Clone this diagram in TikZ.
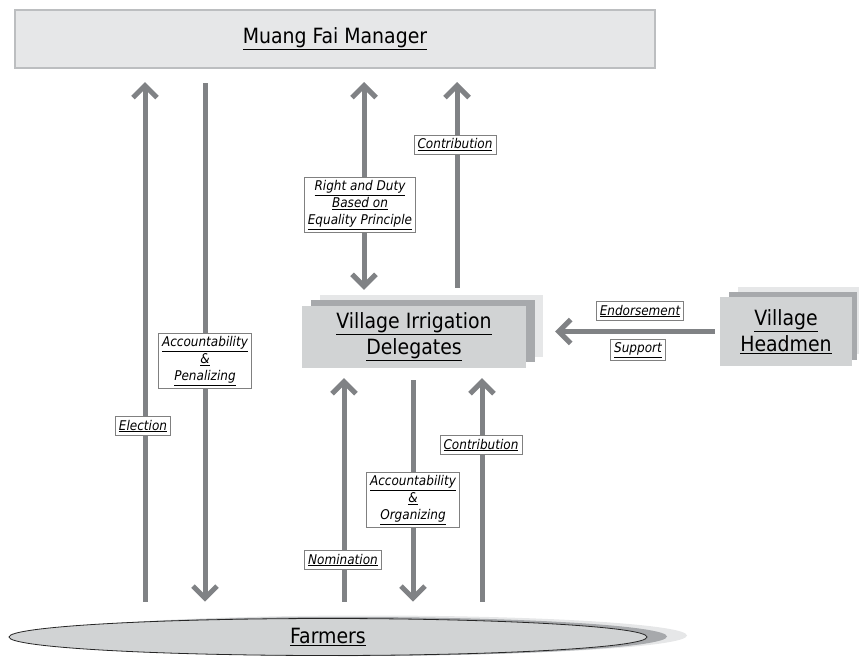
\documentclass[tikz,border=0pt]{standalone}
\usepackage{fontspec}
\setmainfont{DejaVu Sans Condensed}
\usetikzlibrary{arrows.meta,shapes.geometric}
\definecolor{arrowgray}{HTML}{808285}
\definecolor{boxlight}{HTML}{E6E7E8}
\definecolor{boxmid}{HTML}{D1D3D4}
\definecolor{boxdark}{HTML}{A7A9AC}
\definecolor{framegray}{HTML}{BCBEC0}
\newcommand{\ul}[1]{\underline{#1}}
\tikzset{
	barb/.tip={Straight Barb[length=12pt,width=24pt]},
	flow/.style={draw=arrowgray, line width=5pt, -barb},
	flowboth/.style={draw=arrowgray, line width=5pt, barb-barb},
	tag/.style={draw=gray, fill=white, line width=0.8pt, align=center, inner xsep=3.5pt, inner ysep=3pt,
		font=\fontsize{13.4}{17}\selectfont\itshape},
	bigtext/.style={font=\fontsize{21}{26}\selectfont, align=center},
	layer/.style={rectangle, inner sep=0pt},
}
\begin{document}
\begin{tikzpicture}[x=1pt,y=-1pt]
		\useasboundingbox (0,0) rectangle (859,656);
		% Boxes
		\node[layer, draw=framegray, line width=2pt, fill=boxlight, minimum width=640pt, minimum height=58pt, bigtext] (mgr) at (335,39) {\ul{Muang Fai Manager}};
		\node[layer, fill=boxlight, minimum width=223pt, minimum height=62pt] (vidback) at (431.5,326) {};
		\node[layer, fill=boxdark, minimum width=224pt, minimum height=62pt] (vidmid) at (423,331) {};
		\node[layer, fill=boxmid, minimum width=224pt, minimum height=62pt, bigtext] (vid) at (414,337) {\ul{Village Irrigation}\\\ul{Delegates}};
		\node[layer, fill=boxlight, minimum width=124pt, minimum height=67pt] (hmback) at (800,320.5) {};
		\node[layer, fill=boxdark, minimum width=128pt, minimum height=68pt] (hmmid) at (793,326) {};
		\node[layer, fill=boxmid, minimum width=132pt, minimum height=69pt, bigtext] (hm) at (786,331.5) {\ul{Village}\\\ul{Headmen}};
		\node[ellipse, fill=boxlight, inner sep=0pt, minimum width=638pt, minimum height=40pt] (farmlight) at (368,635.5) {};
		\node[ellipse, fill=boxdark, inner sep=0pt, minimum width=638pt, minimum height=39pt] (farmdark) at (348,636.5) {};
		\node[ellipse, draw=black!85, line width=0.8pt, fill=boxmid, inner sep=0pt, minimum width=638pt, minimum height=37pt, bigtext] (farmers) at (328,637) {\ul{Farmers}};
		% Column positions
		\coordinate (c1) at (145,0);
		\coordinate (c2) at (205,0);
		\coordinate (c3) at (364,0);
		\coordinate (c4) at (457,0);
		\coordinate (c5) at (344,0);
		\coordinate (c6) at (413,0);
		\coordinate (c7) at (482,0);
		% Arrows
		\draw[flow, shorten <=16.5pt, shorten >=13pt] (farmers.north -| c1) -- (mgr.south -| c1);
		\draw[flow, shorten <=14pt, shorten >=16.5pt] (mgr.south -| c2) -- (farmers.north -| c2);
		\draw[flowboth, shorten <=5pt, shorten >=13pt] (vidback.north -| c3) -- (mgr.south -| c3);
		\draw[flow, shorten <=7pt, shorten >=13pt] (vidback.north -| c4) -- (mgr.south -| c4);
		\draw[flow, shorten <=16.5pt, shorten >=10pt] (farmers.north -| c5) -- (vid.south -| c5);
		\draw[flow, shorten <=12pt, shorten >=16.5pt] (vid.south -| c6) -- (farmers.north -| c6);
		\draw[flow, shorten <=16.5pt, shorten >=10pt] (farmers.north -| c7) -- (vid.south -| c7);
		\draw[flow, shorten <=5pt, shorten >=12pt] (hm.west) -- (hm.west -| vidback.east);
		% Labels
		\node[tag] (elec) at (143,426) {\ul{Election}};
		\node[tag] (accpen) at (205,361) {\ul{Accountability}\\\ul{\&}\\\ul{Penalizing}};
		\node[tag] (right) at (360,205) {\ul{Right and Duty}\\\ul{Based on}\\\ul{Equality Principle}};
		\node[tag] (contup) at (455,145) {\ul{Contribution}};
		\node[tag] (nomin) at (343,560) {\ul{Nomination}};
		\node[tag] (accorg) at (413,500) {\ul{Accountability}\\\ul{\&}\\\ul{Organizing}};
		\node[tag] (contlow) at (481,445) {\ul{Contribution}};
		\node[tag] (endors) at (640,311) {\ul{Endorsement}};
		\node[tag] (supp) at (638,350) {\ul{Support}};
	\end{tikzpicture}
\end{document}
